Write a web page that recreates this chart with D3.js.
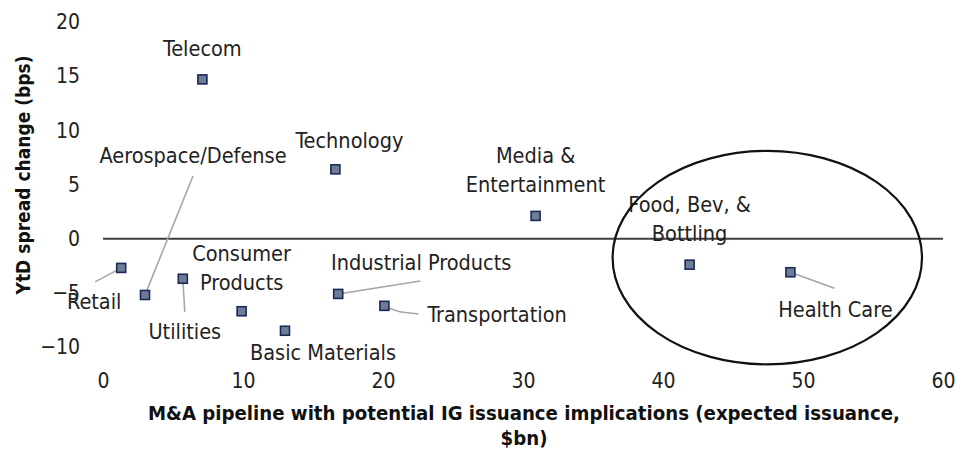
<!DOCTYPE html>
<html>
<head>
<meta charset="utf-8">
<script src="https://cdnjs.cloudflare.com/ajax/libs/d3/7.8.5/d3.min.js"></script>
<style>
  body { margin: 0; background: #fff; }
  svg text { font-family: "DejaVu Sans Condensed", "Liberation Sans", sans-serif; }
</style>
</head>
<body>
<div id="chart"></div>
<script>
// Chart data
const sectors = ["Telecom", "Technology", "Media & Entertainment", "Food, Bev, & Bottling", "Health Care",
  "Retail", "Aerospace/Defense", "Utilities", "Consumer Products", "Basic Materials",
  "Industrial Products", "Transportation"];
const issuance = [7.1, 16.6, 30.9, 41.9, 49.1, 1.3, 3.0, 5.7, 9.9, 13.0, 16.8, 20.1];
const spreadChange = [14.7, 6.4, 2.1, -2.4, -3.1, -2.7, -5.2, -3.7, -6.7, -8.5, -5.1, -6.2];

const xTicks = [0, 10, 20, 30, 40, 50, 60];
const yTicks = [-10, -5, 0, 5, 10, 15, 20];

// highlighted region (data units)
const highlight = {cx: 47.45, cy: -1.75, rx: 11.05, ry: 9.85};

// label placement relative to each point (pixels)
const labelLayout = {
  "Telecom":               {lines: ["Telecom"], dx: 0, dy: -23},
  "Technology":            {lines: ["Technology"], dx: 14, dy: -21},
  "Media & Entertainment": {lines: ["Media &", "Entertainment"], dx: 0, dy: -53},
  "Food, Bev, & Bottling": {lines: ["Food, Bev, &", "Bottling"], dx: 0, dy: -53},
  "Health Care":           {lines: ["Health Care"], dx: 45, dy: 45, leader: [[44, 16]]},
  "Retail":                {lines: ["Retail"], dx: -27, dy: 41, leader: [[-26, 14]]},
  "Aerospace/Defense":     {lines: ["Aerospace/Defense"], dx: 48, dy: -132, leader: [[48, -119]]},
  "Utilities":             {lines: ["Utilities"], dx: 2, dy: 60, leader: [[2, 33]]},
  "Consumer Products":     {lines: ["Consumer", "Products"], dx: 0, dy: -50},
  "Basic Materials":       {lines: ["Basic Materials"], dx: 38, dy: 29},
  "Industrial Products":   {lines: ["Industrial Products"], dx: 83, dy: -24, leader: [[82, -13]]},
  "Transportation":        {lines: ["Transportation"], dx: 43, dy: 16, anchor: "start", leader: [[12, 6], [34, 8]]}
};

const width = 962;
const height = 461;
const plot = {left: 103, right: 943, top: 22, bottom: 347};

const svg = d3.select("#chart")
    .append("svg")
    .attr("width", width)
    .attr("height", height);

const x = d3.scaleLinear().domain([0, 60]).range([plot.left, plot.right]);
const y = d3.scaleLinear().domain([-10, 20]).range([plot.bottom, plot.top]);

const points = sectors.map((s, i) => ({name: s, x: issuance[i], y: spreadChange[i]}));

// Y axis labels
const yAxis = svg.append("g")
    .attr("transform", `translate(${plot.left},0)`)
    .call(d3.axisLeft(y).tickValues(yTicks).tickSize(0).tickPadding(23).tickFormat(d3.format("d")));
yAxis.select(".domain").remove();
yAxis.selectAll("text")
    .attr("font-family", null)
    .style("font-size", "21px")
    .style("fill", "#222");

// X axis labels
const xAxis = svg.append("g")
    .attr("transform", `translate(0,${plot.bottom})`)
    .call(d3.axisBottom(x).tickValues(xTicks).tickSize(0).tickFormat(d3.format("d")));
xAxis.select(".domain").remove();
xAxis.selectAll("text")
    .attr("font-family", null)
    .attr("y", 41)
    .attr("dy", 0)
    .style("font-size", "21px")
    .style("fill", "#222");

// Zero line
svg.append("line")
    .attr("x1", plot.left)
    .attr("x2", plot.right)
    .attr("y1", y(0))
    .attr("y2", y(0))
    .attr("stroke", "#3f3f3f")
    .attr("stroke-width", 2);

// Leader lines
points.forEach(p => {
  const lay = labelLayout[p.name];
  if (!lay.leader) return;
  const px = x(p.x), py = y(p.y);
  const pts = [[px, py]].concat(lay.leader.map(d => [px + d[0], py + d[1]]));
  svg.append("path")
      .attr("d", d3.line().curve(d3.curveBasis)(pts))
      .attr("fill", "none")
      .attr("stroke", "#a6a6a6")
      .attr("stroke-width", 1.6);
});

// Markers
svg.selectAll("rect.pt")
    .data(points)
    .enter()
    .append("rect")
    .attr("class", "pt")
    .attr("x", d => x(d.x) - 4.5)
    .attr("y", d => y(d.y) - 4.5)
    .attr("width", 9)
    .attr("height", 9)
    .attr("fill", "#6e7d96")
    .attr("stroke", "#1b2858")
    .attr("stroke-width", 1.6);

// Point labels
points.forEach(p => {
  const lay = labelLayout[p.name];
  const t = svg.append("text")
      .attr("x", x(p.x) + lay.dx)
      .attr("y", y(p.y) + lay.dy)
      .attr("text-anchor", lay.anchor || "middle")
      .style("font-size", "21.5px")
      .style("fill", "#222");
  lay.lines.forEach((line, i) => {
    t.append("tspan")
        .attr("x", x(p.x) + lay.dx)
        .attr("dy", i === 0 ? 0 : 29)
        .text(line);
  });
});

// Highlight ellipse
svg.append("ellipse")
    .attr("cx", x(highlight.cx))
    .attr("cy", y(highlight.cy))
    .attr("rx", x(highlight.rx) - x(0))
    .attr("ry", y(0) - y(highlight.ry))
    .attr("fill", "none")
    .attr("stroke", "#111")
    .attr("stroke-width", 2.2);

// Axis titles
svg.append("text")
    .attr("transform", `translate(30,175) rotate(-90)`)
    .attr("text-anchor", "middle")
    .style("font-size", "19px")
    .style("font-weight", "bold")
    .style("fill", "#111")
    .text("YtD spread change (bps)");

const xt = svg.append("text")
    .attr("text-anchor", "middle")
    .attr("y", 420)
    .style("font-size", "20.2px")
    .style("font-weight", "bold")
    .style("fill", "#111");
xt.append("tspan").attr("x", 524).text("M&A pipeline with potential IG issuance implications (expected issuance,");
xt.append("tspan").attr("x", 524).attr("dy", 25).text("$bn)");
</script>
</body>
</html>
